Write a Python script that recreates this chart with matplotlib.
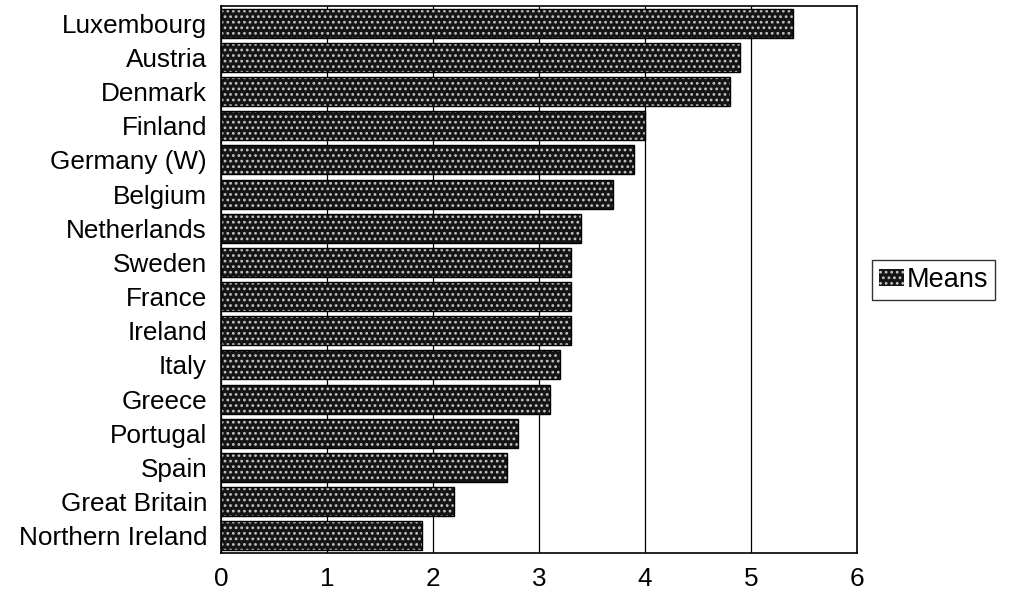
import matplotlib
matplotlib.use("Agg")
import matplotlib.pyplot as plt
from matplotlib.patches import Patch

countries = ["Luxembourg", "Austria", "Denmark", "Finland", "Germany (W)", "Belgium",
             "Netherlands", "Sweden", "France", "Ireland", "Italy", "Greece",
             "Portugal", "Spain", "Great Britain", "Northern Ireland"]
means = [5.4, 4.9, 4.8, 4.0, 3.9, 3.7, 3.4, 3.3, 3.3, 3.3, 3.2, 3.1, 2.8, 2.7, 2.2, 1.9]
xticks = [0, 1, 2, 3, 4, 5, 6]

plt.rcParams['font.family'] = ['Liberation Sans', 'DejaVu Sans']
plt.rcParams['hatch.linewidth'] = 1.2

fig = plt.figure(figsize=(10.12, 5.94), dpi=100)
ax = fig.add_axes([221/1012, 1-553/594, (857-221)/1012, (553-6)/594])

pos = list(range(len(countries)))
ax.barh(pos, means, height=0.85, color='#151515', edgecolor='#c4c4c4',
        hatch='...', linewidth=0, zorder=3)
ax.barh(pos, means, height=0.85, fill=False, edgecolor='black', linewidth=1, zorder=4)

ax.set_ylim(len(countries)-0.5, -0.5)
ax.set_xlim(0, 6)
ax.set_xticks(xticks)
ax.set_xticklabels([str(t) for t in xticks])
ax.set_yticks(pos)
ax.set_yticklabels(countries)
ax.tick_params(axis='both', length=0, labelsize=18.8)
ax.tick_params(axis='y', pad=10)
ax.tick_params(axis='x', pad=10)
ax.grid(axis='x', color='black', linewidth=0.9, zorder=1)
ax.set_axisbelow(True)
for s in ax.spines.values():
    s.set_color('black')
    s.set_linewidth(1.2)

handle = Patch(facecolor='#151515', edgecolor='#c4c4c4', hatch='...', linewidth=0)
leg = fig.legend([handle], ['Means'], loc='center left',
                 bbox_to_anchor=(872/1012, 1-280/594), fontsize=19.5,
                 frameon=True, fancybox=False, edgecolor='black',
                 handlelength=0.95, handleheight=0.6, handletextpad=0.1,
                 borderpad=0.25, borderaxespad=0)
leg.get_frame().set_linewidth(1.0)

fig.savefig("out.png", dpi=100)
